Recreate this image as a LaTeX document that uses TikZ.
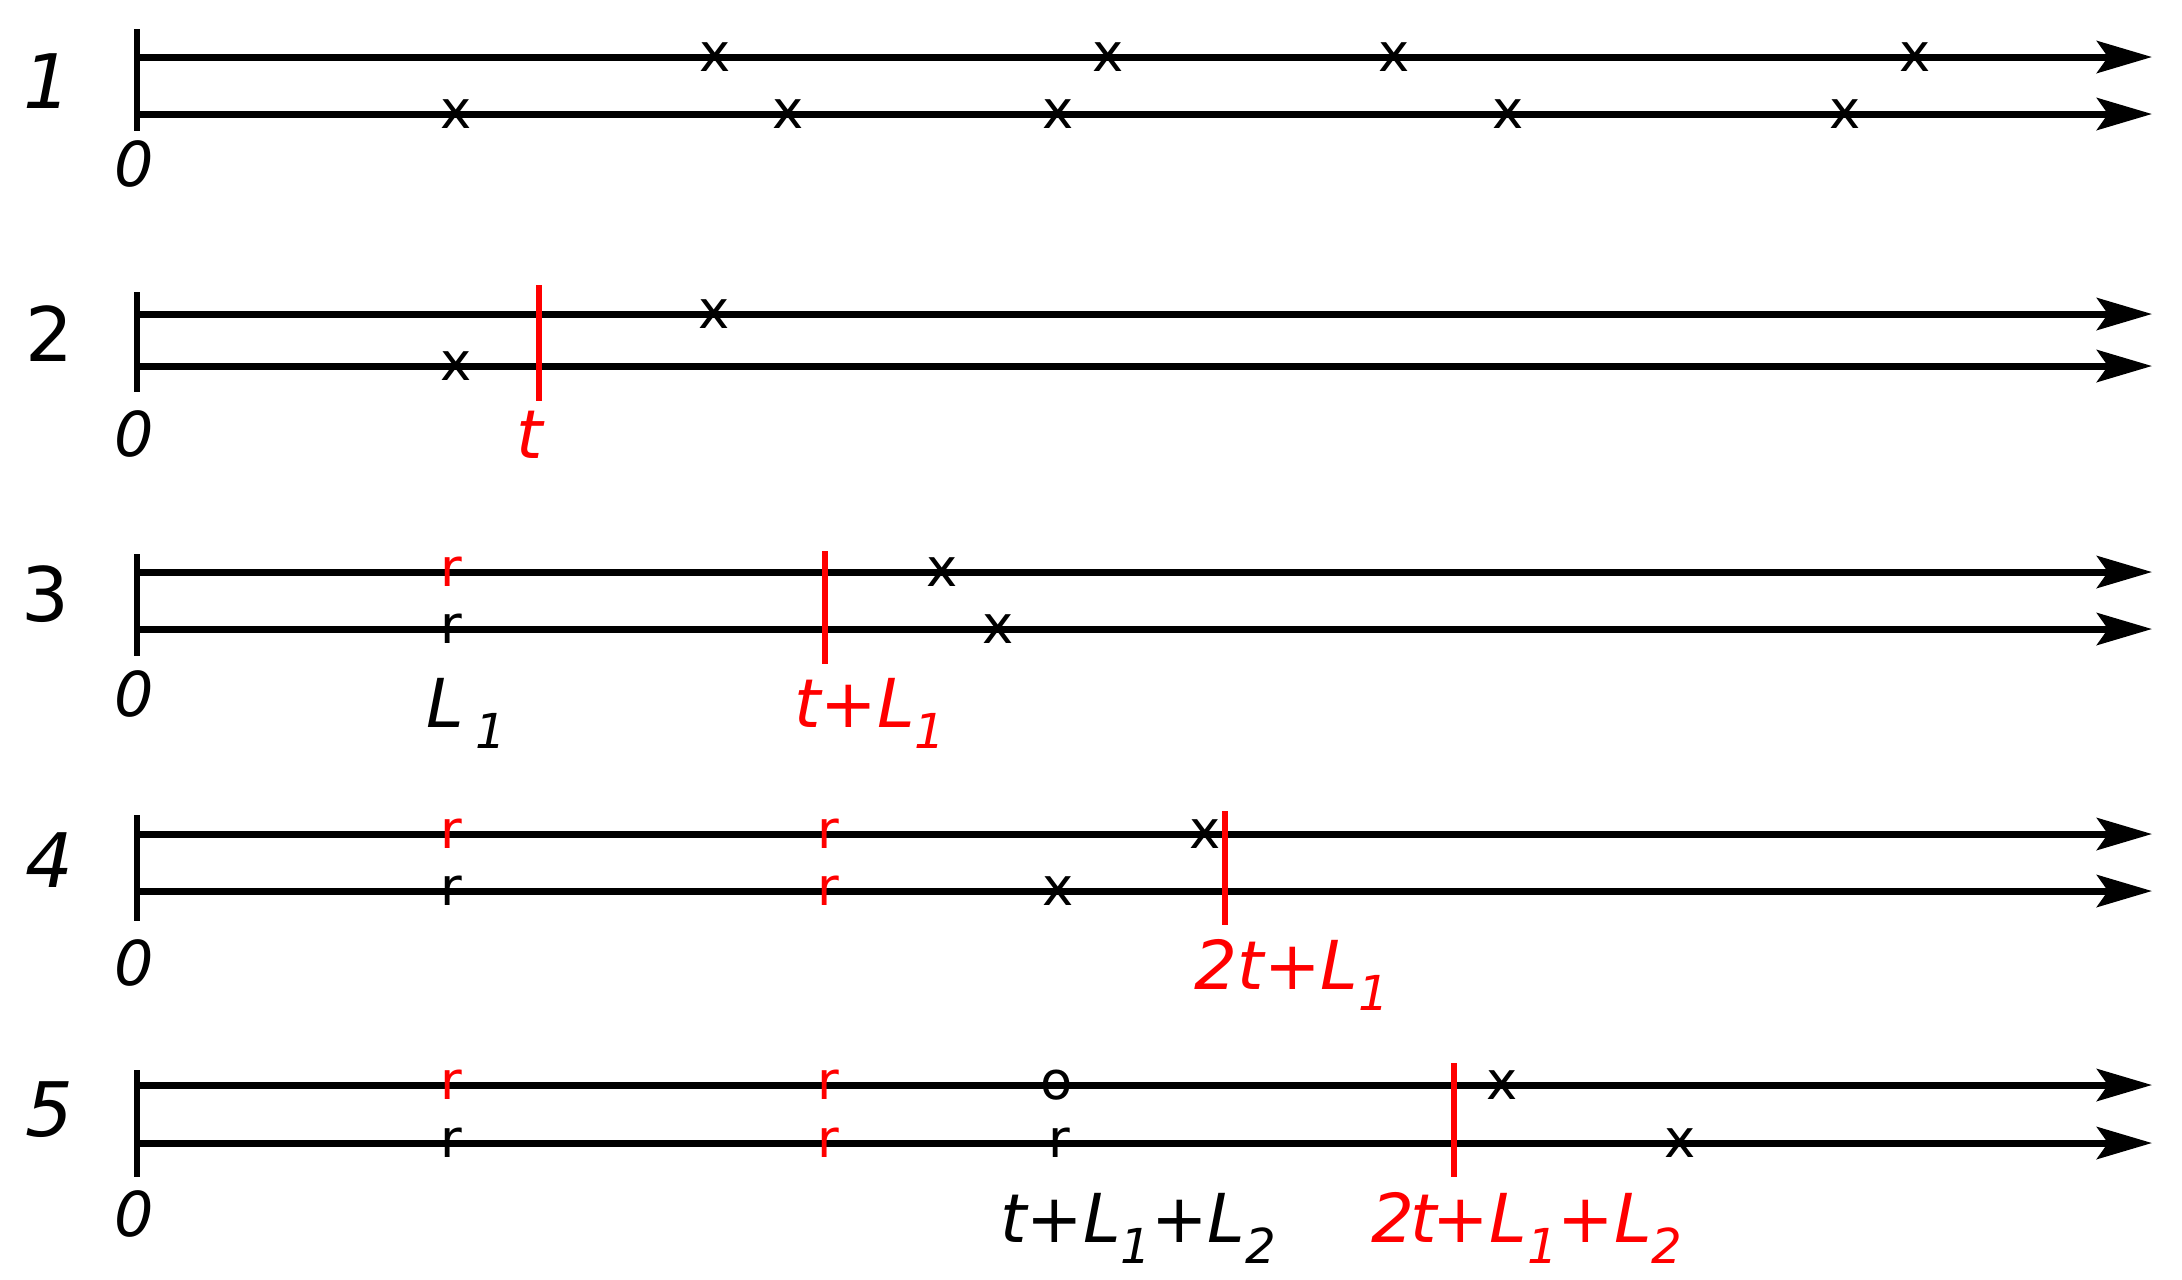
\documentclass[tikz,border=0pt]{standalone}
\usepackage{fontspec}
\setmainfont{DejaVu Sans}
\usetikzlibrary{arrows.meta}
\definecolor{myred}{RGB}{255,0,0}
\newcommand{\lowsub}[1]{\raisebox{-2.1mm}{\fontsize{13.7pt}{16pt}\selectfont #1}}
\begin{document}
\begin{tikzpicture}[x=0.1mm,y=-0.1mm,
 axis/.style={line width=0.7mm, -{Stealth[length=5.5mm,width=3.2mm,inset=1.1mm]}},
 zerobar/.style={line width=0.55mm},
 cut/.style={line width=0.55mm, draw=myred},
 mk/.style={inner sep=0pt, font=\fontsize{15pt}{16pt}\selectfont},
 mkr/.style={mk, text=myred},
 rowlab/.style={inner sep=0pt, font=\fontsize{21.4pt}{24pt}\selectfont},
 rowlabi/.style={rowlab, font=\fontsize{21.4pt}{24pt}\selectfont\itshape},
 zlab/.style={inner sep=0pt, font=\fontsize{17.6pt}{20pt}\selectfont\itshape},
 tlab/.style={inner sep=0pt, anchor=base, font=\fontsize{19.2pt}{22pt}\selectfont\itshape},
 tlabr/.style={tlab, text=myred},
]
\useasboundingbox (0,0) rectangle (2182,1279);

% ---------- row 1 ----------
\coordinate (a1s) at (137,57);  \coordinate (a1e) at (2152,57);
\coordinate (b1s) at (137,114); \coordinate (b1e) at (2152,114);
\coordinate (z1t) at (137,29);  \coordinate (z1b) at (137,131);
\draw[axis] (a1s) -- (a1e);
\draw[axis] (b1s) -- (b1e);
\draw[zerobar] (z1t) -- (z1b);
\node[rowlabi] (lab1) at (47,81) {1};
\node[zlab] (zero1) at (134,164) {0};
\node[mk] (m1a) at (715,57) {x};
\node[mk] (m1b) at (1108,57) {x};
\node[mk] (m1c) at (1394,57) {x};
\node[mk] (m1d) at (1915,57) {x};
\node[mk] (m1e) at (456,114) {x};
\node[mk] (m1f) at (788,114) {x};
\node[mk] (m1g) at (1058,114) {x};
\node[mk] (m1h) at (1508,114) {x};
\node[mk] (m1i) at (1845,114) {x};

% ---------- row 2 ----------
\coordinate (a2s) at (137,314); \coordinate (a2e) at (2152,314);
\coordinate (b2s) at (137,366); \coordinate (b2e) at (2152,366);
\coordinate (z2t) at (137,292); \coordinate (z2b) at (137,392);
\coordinate (c2t) at (539,285); \coordinate (c2b) at (539,401);
\draw[axis] (a2s) -- (a2e);
\draw[axis] (b2s) -- (b2e);
\draw[zerobar] (z2t) -- (z2b);
\draw[cut] (c2t) -- (c2b);
\node[rowlab] (lab2) at (49,334) {2};
\node[zlab] (zero2) at (134,434) {0};
\node[mk] (m2a) at (714,314) {x};
\node[mk] (m2b) at (456,366) {x};
\node[tlabr] (t2) at (530,458) {t};

% ---------- row 3 ----------
\coordinate (a3s) at (137,572); \coordinate (a3e) at (2152,572);
\coordinate (b3s) at (137,629); \coordinate (b3e) at (2152,629);
\coordinate (z3t) at (137,554); \coordinate (z3b) at (137,656);
\coordinate (c3t) at (825,551); \coordinate (c3b) at (825,664);
\draw[axis] (a3s) -- (a3e);
\draw[axis] (b3s) -- (b3e);
\draw[zerobar] (z3t) -- (z3b);
\draw[cut] (c3t) -- (c3b);
\node[rowlab] (lab3) at (45,594) {3};
\node[zlab] (zero3) at (134,694) {0};
\node[mkr] (m3a) at (451,572) {r};
\node[mk] (m3b) at (451,629) {r};
\node[mk] (m3c) at (942,572) {x};
\node[mk] (m3d) at (998,629) {x};
\node[tlab] (L3) at (466,727) {L\,\lowsub{1}};
\node[tlabr] (t3) at (870,727) {t+L\lowsub{1}};

% ---------- row 4 ----------
\coordinate (a4s) at (137,834); \coordinate (a4e) at (2152,834);
\coordinate (b4s) at (137,891); \coordinate (b4e) at (2152,891);
\coordinate (z4t) at (137,815); \coordinate (z4b) at (137,921);
\coordinate (c4t) at (1225,811); \coordinate (c4b) at (1225,925);
\draw[axis] (a4s) -- (a4e);
\draw[axis] (b4s) -- (b4e);
\draw[zerobar] (z4t) -- (z4b);
\draw[cut] (c4t) -- (c4b);
\node[rowlabi] (lab4) at (49,860) {4};
\node[zlab] (zero4) at (134,963) {0};
\node[mkr] (m4a) at (451,834) {r};
\node[mk] (m4b) at (451,891) {r};
\node[mkr] (m4c) at (828,834) {r};
\node[mkr] (m4d) at (828,891) {r};
\node[mk] (m4e) at (1205,834) {x};
\node[mk] (m4f) at (1058,891) {x};
\node[tlabr] (t4) at (1292,989) {2t+L\lowsub{1}};

% ---------- row 5 ----------
\coordinate (a5s) at (137,1085); \coordinate (a5e) at (2152,1085);
\coordinate (b5s) at (137,1143); \coordinate (b5e) at (2152,1143);
\coordinate (z5t) at (137,1070); \coordinate (z5b) at (137,1177);
\coordinate (c5t) at (1454,1063); \coordinate (c5b) at (1454,1177);
\draw[axis] (a5s) -- (a5e);
\draw[axis] (b5s) -- (b5e);
\draw[zerobar] (z5t) -- (z5b);
\draw[cut] (c5t) -- (c5b);
\node[rowlabi] (lab5) at (49,1110) {5};
\node[zlab] (zero5) at (134,1214) {0};
\node[mkr] (m5a) at (451,1085) {r};
\node[mk] (m5b) at (451,1143) {r};
\node[mkr] (m5c) at (828,1085) {r};
\node[mkr] (m5d) at (828,1143) {r};
\node[mk] (m5e) at (1057,1085) {o};
\node[mk] (m5f) at (1059,1143) {r};
\node[mk] (m5g) at (1502,1085) {x};
\node[mk] (m5h) at (1680,1143) {x};
\node[tlab] (t5a) at (1138,1242) {t+L\lowsub{1}+L\lowsub{2}};
\node[tlabr] (t5b) at (1527,1242) {2\kern-0.4mm t\kern-0.4mm+L\lowsub{1}+L\lowsub{2}};
\end{tikzpicture}
\end{document}
